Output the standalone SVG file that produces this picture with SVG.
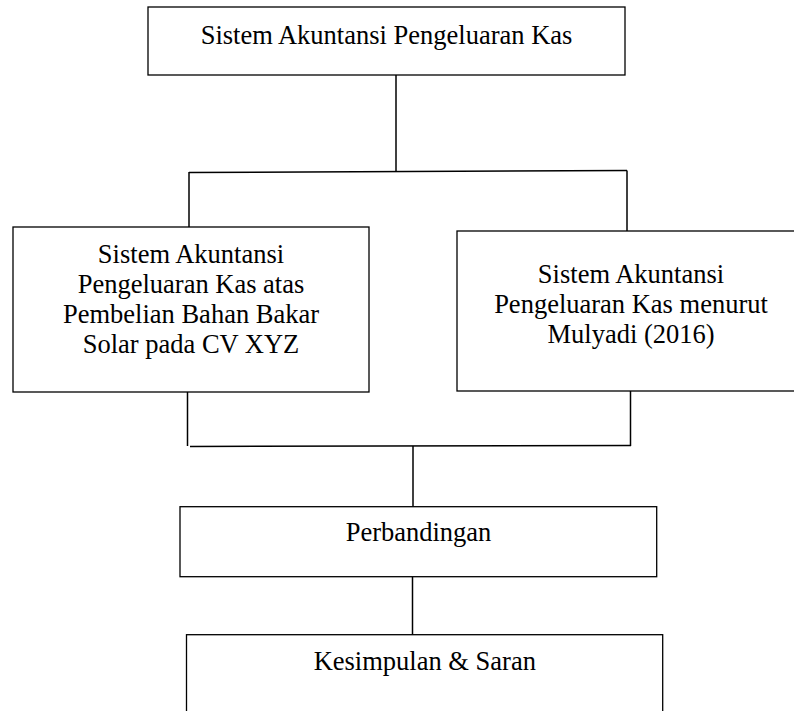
<svg xmlns="http://www.w3.org/2000/svg" width="794" height="711" viewBox="0 0 794 711">
<style>
.box{fill:#fff;stroke:#000;stroke-width:1.3}
.ln{fill:none;stroke:#000;stroke-width:1.5}
text{font-family:"Liberation Serif","Times New Roman",serif;font-size:26.5px;fill:#000;text-anchor:middle}
</style>
<rect width="794" height="711" fill="#fff"/>
<g id="connectors">
<line class="ln" x1="396" y1="75" x2="396" y2="171"/>
<line class="ln" x1="189" y1="172.5" x2="627" y2="170.5"/>
<line class="ln" x1="189" y1="172" x2="189" y2="227"/>
<line class="ln" x1="627" y1="170.5" x2="627" y2="231"/>
<line class="ln" x1="187.5" y1="392" x2="187.5" y2="446"/>
<line class="ln" x1="190" y1="446.5" x2="631" y2="445.5"/>
<line class="ln" x1="630.5" y1="391" x2="630.5" y2="446"/>
<line class="ln" x1="413" y1="446" x2="413" y2="506.7"/>
<line class="ln" x1="412.5" y1="576.7" x2="412.5" y2="634.7"/>
</g>
<g id="node-top">
<rect class="box" x="148" y="7" width="477" height="68"/>
<text x="386.5" y="43.5">Sistem Akuntansi Pengeluaran Kas</text>
</g>
<g id="node-left">
<rect class="box" x="13" y="227" width="356" height="165"/>
<text x="191" y="262.7">Sistem Akuntansi</text>
<text x="191" y="292.9">Pengeluaran Kas atas</text>
<text x="191" y="323.1">Pembelian Bahan Bakar</text>
<text x="191" y="353.3">Solar pada CV XYZ</text>
</g>
<g id="node-right">
<rect class="box" x="457" y="231" width="349" height="160"/>
<text x="631" y="283">Sistem Akuntansi</text>
<text x="631" y="313">Pengeluaran Kas menurut</text>
<text x="631" y="343">Mulyadi (2016)</text>
</g>
<g id="node-perbandingan">
<rect class="box" x="180" y="506.7" width="476.7" height="70"/>
<text x="418.5" y="541">Perbandingan</text>
</g>
<g id="node-kesimpulan">
<rect class="box" x="186.5" y="634.7" width="476.2" height="100"/>
<text x="424.8" y="670">Kesimpulan &amp; Saran</text>
</g>
</svg>
